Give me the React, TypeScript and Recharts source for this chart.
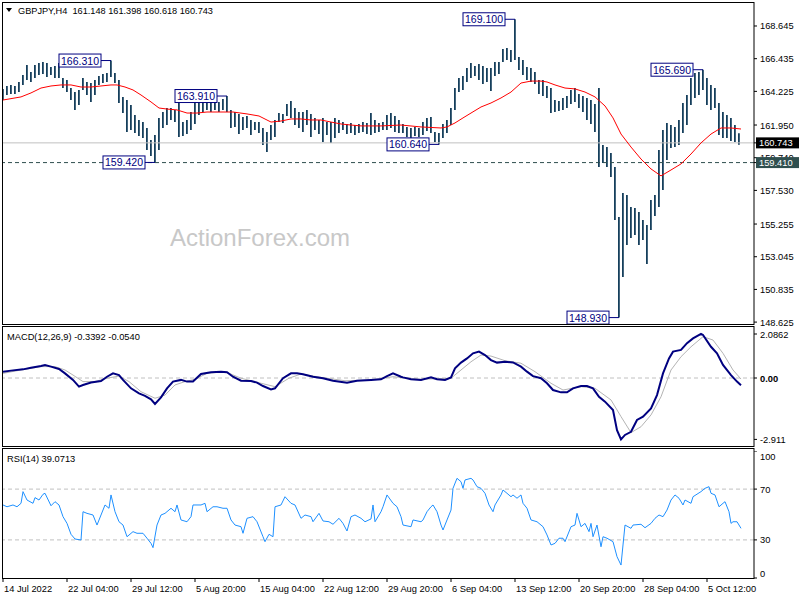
import React from "react";
import {
  ComposedChart,
  LineChart,
  Bar,
  Line,
  XAxis,
  YAxis,
  ReferenceLine,
  ReferenceDot,
} from "recharts";

const FONT = "'Liberation Sans', Arial, sans-serif";

// GBPJPY H4, two H4 bars per point (point i sits on H4 bar 2*i)
const highs = [
  164.39, 164.59, 164.66, 164.59, 164.86, 165.33, 166.01, 165.54, 166.01, 166.14,
  166.21, 166.14, 165.87, 165.94, 166.14, 165.13, 164.99, 164.45, 164.18, 164.32,
  165.13, 164.86, 164.79, 164.99, 165.26, 165.4, 165.47, 166.31, 165.47, 164.99,
  163.85, 163.64, 163.3, 162.63, 162.29, 162.15, 161.75, 160.94, 161.28, 162.43,
  162.83, 163.1, 163.1, 162.97, 163.78, 162.15, 162.29, 162.83, 163.64, 163.64,
  163.85, 163.78, 163.8, 163.64, 163.51, 163.71, 163.91, 162.97, 162.83, 162.7,
  162.49, 162.56, 162.29, 162.15, 162.15, 161.75, 161.48, 161.95, 162.29, 162.76,
  162.7, 163.37, 163.57, 163.1, 162.83, 162.83, 162.97, 162.7, 162.43, 162.29,
  162.43, 162.15, 162.15, 162.43, 162.29, 162.15, 162.02, 162.09, 161.95, 162.02,
  162.15, 162.09, 162.76, 162.29, 162.09, 162.15, 162.63, 162.76, 162.56, 162.29,
  162.02, 161.82, 161.75, 161.82, 161.75, 162.15, 162.43, 162.49, 161.48, 161.41,
  162.02, 162.29, 163.1, 164.45, 165.13, 165.26, 165.81, 166.14, 165.94, 166.08,
  165.94, 165.81, 165.81, 166.21, 166.21, 167.09, 167.16, 167.02, 169.1, 166.55,
  166.35, 165.87, 165.81, 165.54, 164.99, 164.99, 164.59, 164.45, 163.64, 163.57,
  163.78, 163.91, 164.32, 164.45, 164.05, 163.91, 163.78, 163.64, 163.37, 164.45,
  160.6, 160.46, 160.06, 159.11, 155.73, 157.35, 157.22, 156.41, 156.34, 156.07,
  155.53, 155.19, 156.88, 157.22, 160.26, 161.61, 162.09, 161.95, 161.82, 162.29,
  163.44, 163.98, 165.13, 165.47, 165.54, 165.69, 165.13, 164.66, 164.45, 163.44,
  162.83, 162.63, 162.43, 161.95, 161.4,
];

const lows = [
  163.64, 163.98, 164.05, 164.05, 164.18, 164.66, 164.99, 164.86, 165.13, 165.33,
  165.4, 165.2, 165.33, 165.13, 165.13, 164.45, 164.18, 163.64, 162.97, 163.3,
  164.32, 163.98, 163.51, 163.98, 164.66, 164.79, 164.86, 165.2, 164.79, 163.44,
  162.76, 161.48, 161.61, 161.41, 161.21, 161.07, 160.26, 159.86, 159.42, 160.26,
  161.75, 161.95, 162.29, 162.15, 161.14, 161.21, 161.34, 161.61, 162.02, 162.63,
  162.83, 162.97, 162.83, 162.97, 162.83, 162.97, 162.83, 161.75, 161.82, 161.34,
  161.61, 161.75, 161.28, 161.61, 161.41, 160.6, 160.13, 160.94, 161.14, 162.15,
  162.09, 162.56, 162.43, 161.95, 161.75, 161.48, 161.95, 161.14, 161.61, 161.34,
  160.8, 161.28, 160.74, 161.07, 161.41, 161.61, 161.34, 161.41, 161.28, 161.41,
  161.48, 161.34, 161.28, 161.41, 161.48, 161.61, 161.61, 161.75, 161.48, 161.41,
  161.41, 161.14, 161.07, 161.21, 161.14, 161.28, 161.55, 161.41, 160.8, 160.64,
  161.07, 161.41, 161.95, 162.97, 164.18, 164.32, 164.86, 165.13, 165.26, 164.99,
  164.72, 164.86, 164.25, 165.26, 165.4, 166.21, 166.35, 166.21, 166.35, 165.67,
  165.33, 164.99, 164.86, 164.72, 164.05, 163.91, 163.78, 162.76, 162.83, 162.9,
  162.97, 163.1, 163.37, 163.51, 163.1, 162.83, 162.29, 162.02, 161.48, 159.11,
  159.38, 159.11, 158.44, 155.53, 148.93, 151.67, 153.84, 154.31, 154.51, 153.84,
  154.18, 152.55, 154.85, 155.8, 156.41, 157.56, 159.58, 160.4, 160.46, 160.6,
  161.41, 161.95, 163.3, 163.78, 163.98, 164.32, 163.3, 162.97, 163.1, 161.28,
  161.07, 161.07, 160.87, 160.8, 160.62,
];

// red moving average (H4 bar number, value)
const smaBars = [
  0, 9, 14, 19, 24, 29, 34, 39, 44, 49,
  54, 57, 61, 65, 69, 74, 78, 82, 87, 92,
  97, 102, 109, 115, 122, 128, 134, 139, 144, 149,
  154, 159, 164, 169, 174, 179, 189, 199, 209, 219,
  222, 226, 230, 234, 239, 244, 249, 254, 259, 264,
  269, 272, 276, 281, 286, 291, 296, 301, 305, 309,
  314, 319, 324, 329, 334, 339, 344, 349, 354, 359,
  364, 369,
];
const smaValues = [
  163.64, 163.85, 164.12, 164.45, 164.59, 164.66, 164.66, 164.52, 164.52, 164.59,
  164.66, 164.66, 164.52, 164.32, 163.98, 163.51, 163.1, 163.03, 162.97, 162.76,
  162.76, 162.83, 162.83, 162.83, 162.7, 162.56, 162.15, 162.22, 162.36, 162.36,
  162.29, 162.29, 162.15, 162.02, 161.95, 161.89, 161.89, 161.95, 161.82, 161.75,
  161.82, 162.09, 162.43, 162.76, 163.17, 163.44, 163.78, 164.18, 164.79, 164.92,
  164.92, 164.86, 164.66, 164.45, 164.39, 164.18, 163.85, 163.24, 162.43, 161.34,
  160.46, 159.65, 158.98, 158.51, 158.91, 159.32, 159.99, 160.74, 161.34, 161.75,
  161.75, 161.68,
];

const macdBars = [
  0, 4, 10, 14, 19, 21, 24, 28, 31, 35,
  38, 40, 44, 49, 52, 55, 58, 60, 64, 68,
  71, 74, 76, 79, 82, 85, 89, 92, 95, 99,
  104, 109, 112, 115, 119, 124, 127, 130, 134, 136,
  140, 144, 147, 150, 155, 160, 165, 172, 177, 184,
  189, 192, 195, 199, 200, 204, 209, 214, 217, 221,
  224, 226, 229, 232, 235, 238, 241, 244, 247, 251,
  255, 259, 262, 265, 269, 272, 275, 279, 282, 285,
  289, 292, 295, 298, 301, 305, 307, 309, 311, 314,
  317, 320, 324, 327, 330, 333, 335, 339, 342, 345,
  349, 350, 354, 357, 360, 364, 367, 369,
];
const macdValues = [
  0.3, 0.35, 0.41, 0.49, 0.57, 0.62, 0.54, 0.43, 0.22, -0.09,
  -0.41, -0.33, -0.21, -0.14, 0.06, 0.22, 0.14, -0.09, -0.49, -0.73,
  -0.85, -1.01, -1.23, -0.92, -0.49, -0.17, -0.09, -0.17, -0.17, 0.19,
  0.27, 0.3, 0.27, 0.06, -0.13, -0.14, -0.22, -0.38, -0.54, -0.49,
  -0.01, 0.22, 0.22, 0.18, 0.06, -0.01, -0.13, -0.22, -0.13, -0.09,
  -0.06, 0.09, 0.22, 0.06, 0.03, -0.06, -0.09, 0.03, -0.06, -0.09,
  0.03, 0.46, 0.73, 0.93, 1.17, 1.25, 1.09, 0.85, 0.73, 0.77,
  0.74, 0.54, 0.3, 0.09, -0.01, -0.25, -0.57, -0.68, -0.68, -0.49,
  -0.38, -0.38, -0.49, -0.89, -1.12, -1.52, -2.47, -2.91, -2.7, -2.55,
  -1.99, -1.83, -1.44, -0.81, 0.22, 0.93, 1.25, 1.33, 1.65, 1.88,
  2.09, 2.04, 1.48, 1.17, 0.62, 0.14, -0.17, -0.34,
];

const signalBars = [
  0, 9, 19, 26, 31, 35, 40, 46, 52, 58,
  63, 69, 76, 81, 86, 91, 96, 102, 111, 119,
  129, 136, 143, 149, 159, 171, 184, 195, 209, 224,
  229, 234, 239, 244, 251, 259, 266, 274, 280, 289,
  296, 304, 309, 314, 319, 324, 329, 334, 339, 344,
  350, 355, 360, 365, 369,
];
const signalValues = [
  0.22, 0.38, 0.54, 0.54, 0.38, 0.14, -0.17, -0.17, -0.01, 0.09,
  -0.17, -0.65, -0.96, -0.81, -0.33, -0.17, -0.06, 0.22, 0.3, -0.01,
  -0.25, -0.41, -0.01, 0.19, 0.03, -0.13, -0.09, 0.06, -0.06, -0.01,
  0.38, 0.77, 1.09, 1.04, 0.82, 0.7, 0.3, -0.25, -0.57, -0.41,
  -0.49, -1.04, -1.83, -2.59, -2.31, -1.75, -0.89, 0.38, 1.01, 1.48,
  1.96, 1.8, 1.17, 0.38, -0.05,
];

const rsiBars = [
  0, 2, 5, 7, 9, 10, 12, 15, 16, 18,
  20, 21, 24, 26, 28, 30, 32, 34, 36, 39,
  40, 42, 45, 47, 49, 51, 53, 54, 56, 58,
  60, 62, 65, 67, 70, 72, 74, 75, 77, 79,
  81, 84, 86, 87, 89, 92, 94, 95, 99, 101,
  102, 105, 107, 110, 112, 114, 116, 119, 120, 122,
  125, 127, 130, 131, 133, 135, 136, 139, 141, 144,
  146, 149, 151, 154, 155, 158, 160, 163, 165, 168,
  170, 172, 174, 176, 179, 181, 184, 185, 186, 189,
  190, 192, 195, 197, 199, 200, 204, 205, 209, 210,
  212, 214, 215, 217, 219, 220, 222, 224, 225, 227,
  229, 230, 231, 234, 235, 237, 239, 241, 243, 245,
  246, 249, 250, 252, 254, 255, 257, 259, 260, 262,
  264, 267, 270, 272, 274, 276, 278, 280, 281, 284,
  286, 287, 289, 291, 293, 294, 295, 297, 299, 300,
  302, 305, 307, 309, 310, 311, 314, 315, 319, 321,
  324, 326, 328, 330, 332, 334, 336, 338, 340, 341,
  344, 345, 349, 351, 353, 354, 356, 358, 360, 361,
  363, 364, 365, 367, 369,
];
const rsiValues = [
  57.5, 56.1, 57.5, 56.1, 58.8, 68.0, 61.4, 58.8, 63.3, 61.4,
  65.9, 66.7, 56.9, 60.1, 57.5, 48.3, 43.0, 34.4, 30.7, 29.9,
  52.2, 50.9, 49.6, 41.7, 49.6, 57.5, 54.9, 65.4, 52.2, 44.3,
  41.7, 32.5, 36.5, 35.2, 35.2, 31.3, 27.3, 23.9, 41.7, 49.6,
  50.9, 54.9, 52.2, 57.5, 45.7, 44.3, 48.3, 57.5, 57.5, 58.8,
  52.2, 56.1, 56.1, 54.9, 54.9, 45.7, 41.7, 40.4, 35.2, 47.0,
  48.3, 44.3, 32.5, 28.6, 34.4, 32.5, 56.1, 57.5, 64.0, 58.8,
  57.5, 47.0, 49.6, 48.3, 44.3, 50.9, 44.9, 44.3, 42.3, 47.0,
  43.0, 37.0, 48.3, 49.6, 47.0, 44.3, 46.5, 57.5, 44.3, 52.2,
  56.1, 65.4, 58.8, 56.1, 48.3, 41.7, 40.4, 45.7, 44.3, 45.7,
  52.2, 56.1, 57.5, 52.2, 41.7, 37.8, 45.7, 53.5, 70.6, 78.5,
  75.8, 70.6, 77.2, 78.5, 77.2, 71.9, 70.6, 66.7, 57.5, 52.2,
  57.5, 65.4, 69.3, 66.7, 64.0, 65.4, 62.8, 65.4, 58.8, 54.9,
  45.7, 44.3, 40.4, 33.9, 26.0, 27.3, 31.3, 31.3, 28.6, 40.4,
  41.7, 50.9, 40.4, 43.0, 36.5, 43.0, 32.5, 41.7, 24.6, 32.5,
  31.3, 28.6, 16.8, 10.2, 26.0, 41.7, 39.1, 41.7, 42.3, 39.6,
  43.0, 47.0, 49.6, 48.3, 53.5, 61.4, 65.4, 62.8, 57.5, 61.4,
  58.8, 64.0, 68.0, 70.6, 71.9, 66.7, 65.4, 56.1, 58.8, 60.1,
  52.2, 43.0, 44.3, 44.3, 39.1,
];

const lastPrice = 160.743;
const levelPrice = 159.41;

// scale labels; the two tags come last so they sit on top
const priceTicks = [
  168.645, 166.435, 164.225, 161.95, 159.74, 157.53, 155.255, 153.045, 150.835, 148.625,
  lastPrice, levelPrice,
];
const macdTicks = [2.0862, 0, -2.911];
const rsiTicks = [100, 70, 30, 0];

const dateTicks = [0, 32, 64, 96, 128, 160, 192, 224, 256, 288, 320, 352];
const dateLabels = [
  "14 Jul 2022", "22 Jul 04:00", "29 Jul 12:00", "5 Aug 20:00", "15 Aug 04:00", "22 Aug 12:00",
  "29 Aug 20:00", "6 Sep 04:00", "13 Sep 12:00", "20 Sep 20:00", "28 Sep 04:00", "5 Oct 12:00",
];

// swing labels: point index and which end of the bar
const swingPoints = [27, 56, 38, 109, 128, 154, 175];
const swingKinds = ["high", "high", "low", "low", "high", "low", "high"];

const X_DOMAIN: [number, number] = [0, 375.5];

function AxisText({ x, y, text, dy = 3.5, bold = false }: any) {
  return (
    <text x={x} y={y} dy={dy} fontSize={9.3} fontFamily={FONT} fill="#000" fontWeight={bold ? "bold" : "normal"}>
      {text}
    </text>
  );
}

function PriceTick({ x, y, payload }: any) {
  const v = payload.value;
  if (v === lastPrice || v === levelPrice) {
    return (
      <g>
        <rect x={x - 4} y={y - 5.5} width={43} height={11} fill={v === lastPrice ? "#000" : "#2f4f4f"} />
        <text x={x - 1} y={y + 3.5} fontSize={9.3} fontFamily={FONT} fill="#fff">
          {v.toFixed(3)}
        </text>
      </g>
    );
  }
  return <AxisText x={x} y={y} text={v.toFixed(3)} />;
}

function Swing({ cx, cy, text }: any) {
  const boxRight = cx - 10;
  return (
    <g>
      <line x1={boxRight} y1={cy} x2={cx} y2={cy} stroke="#000080" strokeWidth={1} />
      <rect x={boxRight - 42} y={cy - 6.5} width={42} height={13} fill="#fff" stroke="#000080" strokeWidth={1} />
      <text x={boxRight - 21} y={cy + 4} textAnchor="middle" fontSize={10.5} fontFamily={FONT} fill="#000080">
        {text}
      </text>
    </g>
  );
}

export default function App() {
  const priceData = highs.map((h, i) => ({ b: i * 2, range: [lows[i], h] }));
  const smaData = smaBars.map((b, i) => ({ b, sma: smaValues[i] }));
  const macdData = macdBars.map((b, i) => ({ b, macd: macdValues[i] }));
  const signalData = signalBars.map((b, i) => ({ b, signal: signalValues[i] }));
  const rsiData = rsiBars.map((b, i) => ({ b, rsi: rsiValues[i] }));

  return (
    <div style={{ position: "relative", width: 800, height: 600, background: "#fff", overflow: "hidden" }}>
      <style>{"body{margin:0}"}</style>

      {/* PRICE */}
      <div style={{ position: "absolute", left: 0, top: 3 }}>
        <ComposedChart width={800} height={332} data={priceData} margin={{ top: 0, right: 0, bottom: 10, left: 3 }}>
          <XAxis dataKey="b" type="number" domain={X_DOMAIN} hide allowDataOverflow />
          <YAxis
            orientation="right"
            type="number"
            domain={[148.429, 170.2]}
            ticks={priceTicks}
            interval={0}
            width={46}
            axisLine={false}
            tickLine={{ stroke: "#000" }}
            tickSize={3}
            tickMargin={3}
            allowDataOverflow
            tick={(p: any) => <PriceTick x={p.x} y={p.y} payload={p.payload} />}
          />
          <ReferenceLine y={lastPrice} stroke="#c0c0c0" />
          <ReferenceLine y={levelPrice} stroke="#2f4f4f" strokeDasharray="4 3" />
          <Bar dataKey="range" fill="#163f5c" barSize={2} isAnimationActive={false} />
          <Line
            data={smaData}
            dataKey="sma"
            stroke="#ff0000"
            strokeWidth={1}
            dot={false}
            isAnimationActive={false}
          />
          {swingPoints.map((idx, k) => {
            const price = swingKinds[k] === "high" ? highs[idx] : lows[idx];
            return (
              <ReferenceDot
                key={idx}
                x={idx * 2}
                y={price}
                r={0}
                ifOverflow="visible"
                shape={(p: any) => <Swing cx={p.cx} cy={p.cy} text={price.toFixed(3)} />}
              />
            );
          })}
        </ComposedChart>
      </div>

      {/* MACD */}
      <div style={{ position: "absolute", left: 0, top: 328 }}>
        <LineChart width={800} height={118} margin={{ top: 0, right: 0, bottom: 0, left: 3 }}>
          <XAxis dataKey="b" type="number" domain={X_DOMAIN} hide allowDataOverflow />
          <YAxis
            orientation="right"
            type="number"
            domain={[-3.224, 2.371]}
            ticks={macdTicks}
            interval={0}
            width={46}
            axisLine={false}
            tickLine={{ stroke: "#000" }}
            tickSize={3}
            tickMargin={3}
            allowDataOverflow
            tick={(p: any) => (
              <AxisText
                x={p.x}
                y={p.y}
                text={p.payload.value === 0 ? "0.00" : String(p.payload.value)}
                bold={p.payload.value === 0}
              />
            )}
          />
          <ReferenceLine y={0} stroke="#c0c0c0" strokeDasharray="4 3" />
          <Line
            data={signalData}
            dataKey="signal"
            stroke="#b4b4b4"
            strokeWidth={1}
            dot={false}
            isAnimationActive={false}
          />
          <Line
            data={macdData}
            dataKey="macd"
            stroke="#000080"
            strokeWidth={2}
            dot={false}
            isAnimationActive={false}
          />
        </LineChart>
      </div>

      {/* RSI */}
      <div style={{ position: "absolute", left: 0, top: 451 }}>
        <LineChart width={800} height={149} data={rsiData} margin={{ top: 0, right: 0, bottom: 0, left: 3 }}>
          <XAxis
            dataKey="b"
            type="number"
            domain={X_DOMAIN}
            ticks={dateTicks}
            interval={0}
            height={22}
            axisLine={false}
            tickLine={{ stroke: "#000" }}
            tickSize={4}
            tickMargin={2}
            allowDataOverflow
            tick={(p: any) => (
              <text x={p.x + 1} y={p.y + 7.5} fontSize={9.3} fontFamily={FONT} fill="#000">
                {dateLabels[dateTicks.indexOf(p.payload.value)]}
              </text>
            )}
          />
          <YAxis
            orientation="right"
            type="number"
            domain={[0, 100]}
            ticks={rsiTicks}
            interval={0}
            width={46}
            axisLine={false}
            tickLine={{ stroke: "#000" }}
            tickSize={3}
            tickMargin={3}
            tick={(p: any) => {
              const v = p.payload.value;
              const dy = v === 100 ? 9 : v === 0 ? -1.5 : 3.5;
              return <AxisText x={p.x} y={p.y} dy={dy} text={String(v)} />;
            }}
          />
          <ReferenceLine y={70} stroke="#c0c0c0" strokeDasharray="4 3" />
          <ReferenceLine y={30} stroke="#c0c0c0" strokeDasharray="4 3" />
          <Line dataKey="rsi" stroke="#1e90ff" strokeWidth={1} dot={false} isAnimationActive={false} />
        </LineChart>
      </div>

      {/* frames and captions */}
      <svg
        width={800}
        height={600}
        style={{ position: "absolute", left: 0, top: 0, pointerEvents: "none" }}
      >
        <rect x={2.5} y={2.5} width={751.5} height={322} fill="none" stroke="#000" />
        <rect x={2.5} y={326.5} width={751.5} height={120} fill="none" stroke="#000" />
        <rect x={2.5} y={448.5} width={751.5} height={130} fill="none" stroke="#000" />
        <polygon points="6,8 12,8 9,12" fill="#000" />
        <text x={18} y={14} fontSize={9.2} fontFamily={FONT} fill="#000" xmlSpace="preserve">
          GBPJPY,H4  161.148 161.398 160.618 160.743
        </text>
        <text x={7} y={340} fontSize={9.3} fontFamily={FONT} fill="#000">
          MACD(12,26,9) -0.3392 -0.0540
        </text>
        <text x={7} y={462} fontSize={9.3} fontFamily={FONT} fill="#000">
          RSI(14) 39.0713
        </text>
        <text x={170} y={246} fontSize={24} fontFamily={FONT} fill="#c8c8c8">
          ActionForex.com
        </text>
      </svg>
    </div>
  );
}
